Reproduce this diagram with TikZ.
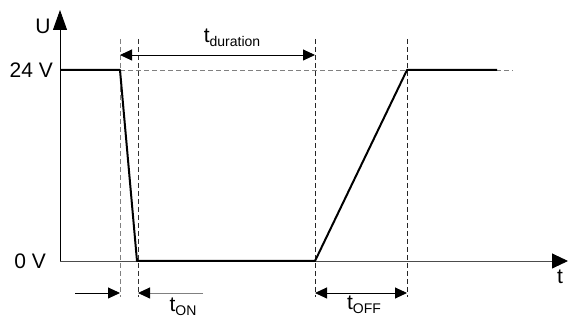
\documentclass[tikz,border=0pt]{standalone}
\usepackage{fontspec}
\setmainfont{Liberation Sans}
\usetikzlibrary{arrows.meta}
\begin{document}
\begin{tikzpicture}[x=1pt,y=-1pt,
  axis/.style={line width=0.9pt},
  sig/.style={line width=2pt,line join=round},
  guide/.style={line width=0.9pt,dash pattern=on 5pt off 3pt},
  dim/.style={line width=0.9pt},
  bigtip/.style={-{Triangle[length=20pt,width=14pt]}},
  dtip/.tip={Triangle[length=12pt,width=11pt]},
  lbl/.style={inner sep=0pt,font=\fontsize{21}{25}\selectfont},
]
\useasboundingbox (0,0) rectangle (568,320);
% coordinates
\coordinate (O) at (60,261);
\coordinate (Utop) at (60,10);
\coordinate (Tend) at (568,261);
\coordinate (A) at (60,70);
\coordinate (B) at (120,70);
\coordinate (C) at (137,261);
\coordinate (D) at (315,261);
\coordinate (E) at (407,70);
\coordinate (F) at (497,70);
\coordinate (G) at (513,70);
% guides vertical
\coordinate (v1t) at (120,39); \coordinate (v1b) at (120,297);
\coordinate (v2t) at (138,39); \coordinate (v2b) at (138,297);
\coordinate (v3t) at (315,39); \coordinate (v3b) at (315,297);
\coordinate (v4t) at (407,39); \coordinate (v4b) at (407,297);
\draw[guide,gray] (v1t) -- (v1b);
\draw[guide,black!80] (v2t) -- (v2b);
\draw[guide,black!85] (v3t) -- (v3b);
\draw[guide,black!85] (v4t) -- (v4b);
\draw[guide,gray] (B) -- (G);
% axes
\draw[axis,black!70,-{Triangle[length=16pt,width=15pt,black]}] (O) -- (Tend);
\draw[axis,bigtip] (O) -- (Utop);
% signal
\draw[sig] (A) -- (B) -- (C) -- (D) -- (E) -- (F);
% dimension arrows
\coordinate (d1) at (120,55); \coordinate (d2) at (315,55);
\draw[dim,dtip-dtip] (d1) -- (d2);
\coordinate (on1) at (75,293); \coordinate (on2) at (120,293);
\coordinate (on3) at (203,293); \coordinate (on4) at (138,293);
\draw[dim,-dtip] (on1) -- (on2);
\draw[dim,gray,-{Triangle[length=12pt,width=11pt,black]}] (on3) -- (on4);
\coordinate (off1) at (315,293); \coordinate (off2) at (407,293);
\draw[dim,dtip-dtip] (off1) -- (off2);
% labels
\node[lbl] (lU) at (43,26) {U};
\node[lbl,anchor=east] (l24) at (53,70) {24 V};
\node[lbl,anchor=east] (l0) at (46,261) {0 V};
\node[lbl] (lt) at (560,277) {t};
\node[lbl,anchor=base] (ldur) at (232,43) {t\raisebox{-4pt}{\fontsize{14}{16}\selectfont duration}};
\node[lbl,anchor=base] (lon) at (183,312) {t\raisebox{-4pt}{\fontsize{14}{16}\selectfont ON}};
\node[lbl,anchor=base] (loff) at (364,310) {t\raisebox{-4pt}{\fontsize{14}{16}\selectfont OFF}};
\end{tikzpicture}
\end{document}
